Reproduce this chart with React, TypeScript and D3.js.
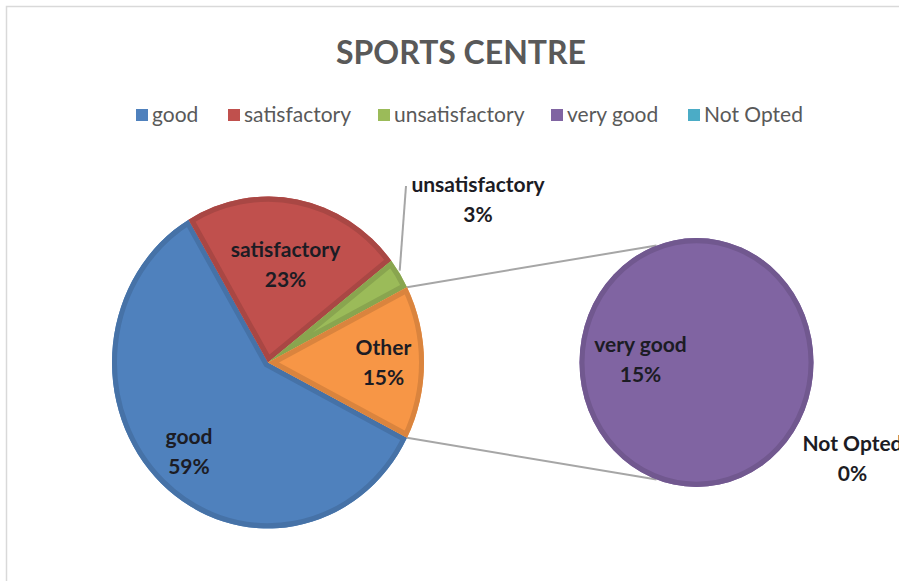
import React from "react";
import * as d3 from "d3";

const title = "SPORTS CENTRE";
const categories = ["good", "satisfactory", "unsatisfactory", "very good", "Not Opted"];
const values = [59, 23, 3, 15, 0];
const colors = ["#4F81BD", "#C0504D", "#9BBB59", "#8064A2", "#4BACC6"];
const secondaryCount = 2; // last two categories go to the second pie
const otherColor = "#F79646";
const otherLabel = "Other";

const W = 899;
const H = 581;
const FONT = "Lato, 'Open Sans', sans-serif";
const SY = 1.064; // vertical stretch of the reference picture

export default function App() {
  const primaryNames = categories.slice(0, categories.length - secondaryCount);
  const primaryVals = values.slice(0, categories.length - secondaryCount);
  const secNames = categories.slice(categories.length - secondaryCount);
  const secVals = values.slice(categories.length - secondaryCount);
  const secColors = colors.slice(categories.length - secondaryCount);
  const otherVal = d3.sum(secVals);
  const total = d3.sum(values);

  const mainData = [
    ...primaryNames.map((n, i) => ({ name: n, value: primaryVals[i], color: colors[i] })),
    { name: otherLabel, value: otherVal, color: otherColor },
  ];
  const f = otherVal / total;
  const start = Math.PI / 2 + f * Math.PI;
  const pie = d3
    .pie<any>()
    .sort(null)
    .value((d) => d.value)
    .startAngle(start)
    .endAngle(start + 2 * Math.PI);
  const arcsMain = pie(mainData);

  const cx = 268, cy = 362.5, r = 156;
  const cx2 = 696.5, cy2 = 362.5, r2 = 117;

  const arcGen = d3.arc<any>().innerRadius(0).outerRadius(r);
  const arcGen2 = d3.arc<any>().innerRadius(0).outerRadius(r2);

  const secData = secNames.map((n, i) => ({ name: n, value: secVals[i], color: secColors[i] }));
  const secStart = Math.PI / 2 + Math.PI; // unused orientation, full circle
  const pie2 = d3.pie<any>().sort(null).value((d) => d.value).startAngle(-Math.PI / 2 - 0.0001).endAngle(-Math.PI / 2 + 2 * Math.PI);
  const arcsSec = pie2(secData);

  const pt = (x0: number, y0: number, rad: number, a: number) => [
    x0 + rad * Math.sin(a),
    y0 - rad * Math.cos(a) * SY,
  ];

  const other = arcsMain[arcsMain.length - 1];
  const topA = pt(cx, cy, r, other.startAngle);
  const botA = pt(cx, cy, r, other.endAngle);
  const conn = (20 * Math.PI) / 180;
  const topB = pt(cx2, cy2, r2, -conn);
  const botB = pt(cx2, cy2, r2, Math.PI + conn);

  const pct = (v: number) => `${Math.round((v / total) * 100)}%`;
  const labelFrac = [0.74, 0.6, 0, 0.74];

  const labelStyle: React.CSSProperties = {
    fontFamily: FONT,
    fontWeight: 700,
    fontSize: 21,
    fill: "#1c1c24",
  };

  const twoLine = (x: number, y: number, a: string, b: string, key: string) => (
    <text key={key} x={x} y={y} textAnchor="middle" style={labelStyle}>
      <tspan x={x} dy={-8}>{a}</tspan>
      <tspan x={x} dy={30}>{b}</tspan>
    </text>
  );

  const dark = (c: string) => d3.color(c)!.darker(0.35).formatHex();

  // legend layout
  const legendX = [136, 228, 378, 551, 688];

  return (
    <div style={{ position: "absolute", left: 0, top: 0 }}>
      <svg width={W} height={H} style={{ display: "block", background: "#fff" }}>
        <defs>
          {arcsMain.map((a, i) => (
            <clipPath id={`cm${i}`} key={i}>
              <path d={arcGen(a) || ""} />
            </clipPath>
          ))}
          <clipPath id="cs0">
            <circle r={r2} />
          </clipPath>
        </defs>
        <rect x={6.5} y={6.5} width={W + 20} height={H + 20} fill="#fff" stroke="#d9d9d9" strokeWidth={1.5} />
        <text x={461} y={64} textAnchor="middle" style={{ fontFamily: FONT, fontWeight: 700, fontSize: 32, fill: "#595959" }}>
          {title}
        </text>
        {categories.map((c, i) => (
          <g key={c} transform={`translate(${legendX[i]},0)`}>
            <rect x={0} y={109} width={12} height={12} fill={colors[i]} />
            <text x={16} y={122} style={{ fontFamily: FONT, fontSize: 21, fill: "#595959" }}>{c}</text>
          </g>
        ))}
        {/* connector lines */}
        <line x1={topA[0]} y1={topA[1]} x2={topB[0]} y2={topB[1]} stroke="#a6a6a6" strokeWidth={2} />
        <line x1={botA[0]} y1={botA[1]} x2={botB[0]} y2={botB[1]} stroke="#a6a6a6" strokeWidth={2} />
        {/* main pie */}
        <g transform={`translate(${cx},${cy}) scale(1,${SY})`}>
          {arcsMain.map((a, i) => (
            <g key={i}>
              <path d={arcGen(a) || ""} fill={a.data.color} />
              <path d={arcGen(a) || ""} fill="none" stroke={dark(a.data.color)} strokeWidth={10} clipPath={`url(#cm${i})`} />
            </g>
          ))}
        </g>
        {/* secondary pie */}
        <g transform={`translate(${cx2},${cy2}) scale(1,${SY})`}>
          {arcsSec.filter((a) => a.value > 0).map((a, i) => (
            <g key={i}>
              <path d={arcGen2(a) || ""} fill={a.data.color} />
              <circle r={r2} fill="none" stroke={dark(a.data.color)} strokeWidth={10} clipPath="url(#cs0)" />
            </g>
          ))}
        </g>
        {/* unsatisfactory leader */}
        {(() => {
          const a = arcsMain[2];
          const m = (a.startAngle + a.endAngle) / 2;
          const p = pt(cx, cy, r, m);
          return <polyline points={`${p[0]},${p[1] - 3} 406,186`} fill="none" stroke="#a6a6a6" strokeWidth={2} />;
        })()}
        {/* labels */}
        {arcsMain.map((a, i) => {
          const m = (a.startAngle + a.endAngle) / 2;
          if (i === 2) return twoLine(478, 200, a.data.name, pct(a.value), "l" + i);
          const p = pt(cx, cy, r * labelFrac[i], m);
          return twoLine(p[0], p[1], a.data.name, pct(a.value), "l" + i);
        })}
        {twoLine(cx2 - 56, cy2 - 3, secNames[0], pct(secVals[0]), "s0")}
        {twoLine(cx2 + 156, cy2 + 96, secNames[1], pct(secVals[1]), "s1")}
      </svg>
    </div>
  );
}
